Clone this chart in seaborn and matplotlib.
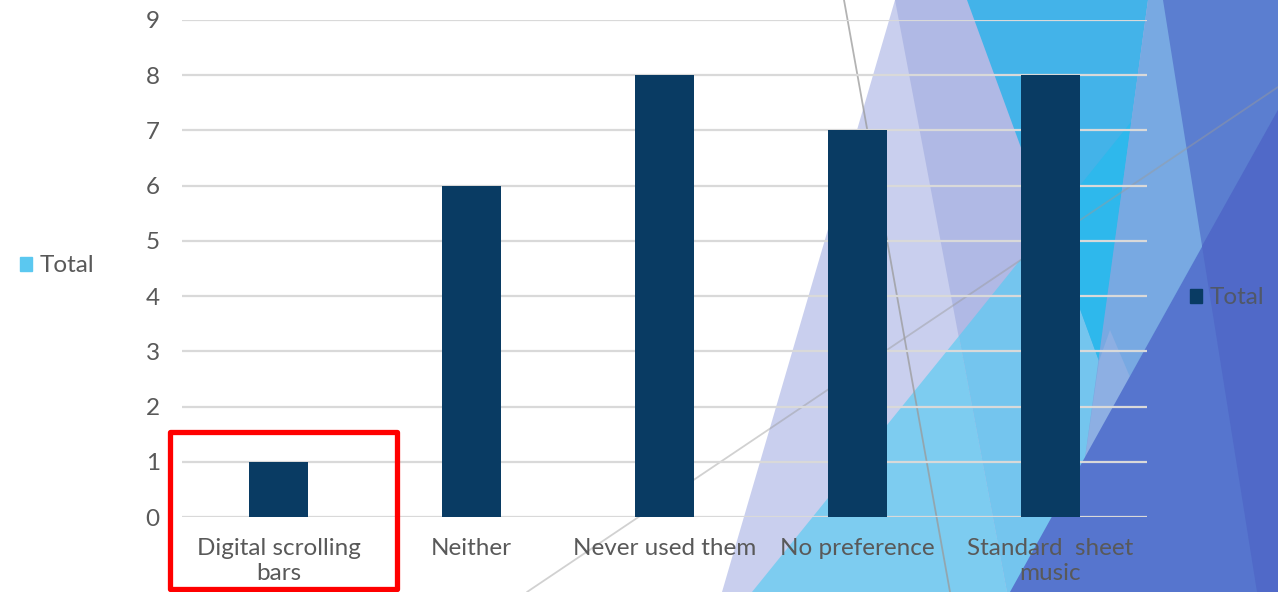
import matplotlib
matplotlib.use("Agg")
import matplotlib.pyplot as plt
import seaborn as sns
from matplotlib.patches import Polygon, Rectangle, Patch
from matplotlib.lines import Line2D

# ---- data ----
categories = ["Digital scrolling\nbars", "Neither", "Never used them", "No preference", "Standard  sheet\nmusic"]
values = [1, 6, 8, 7, 8]
series_name = "Total"
yticks = list(range(0, 10))

W, H = 1278, 592
sns.set_theme(style="white")
plt.rcParams['font.family'] = ['Lato', 'DejaVu Sans']

fig = plt.figure(figsize=(W / 100, H / 100), dpi=100)
fig.patch.set_facecolor("white")

def fp(pts):
    return [(x / W, 1 - y / H) for x, y in pts]

def poly(pts, color, z=-10):
    fig.add_artist(Polygon(fp(pts), closed=True, facecolor=color, edgecolor="none",
                           transform=fig.transFigure, zorder=z))

# decorative slide background (figure pixel coordinates)
poly([(895, 0), (722, 592), (1278, 592), (1278, 0)], "#C9CFEE")
poly([(895, 0), (1007, 592), (1278, 592), (1278, 0)], "#B0B9E5")
poly([(752, 592), (959, 336), (1007, 592)], "#7DCCF0")
poly([(959, 336), (1229, 0), (1278, 0), (1278, 592), (1007, 592)], "#74C5EE")
poly([(967, 0), (1148, 0), (1099, 361)], "#43B3E9")
poly([(1049, 224), (1131, 122), (1099, 361)], "#2EB8EC")
poly([(1148, 0), (1085, 458), (1278, 110), (1278, 0)], "#78A9E2")
poly([(1099, 361), (1085, 458), (1130, 377), (1110, 330)], "#8DAFE3")
poly([(1163, 0), (1257, 592), (1278, 592), (1278, 0)], "#5B7ED0")
poly([(1010, 592), (1278, 110), (1278, 592)], "#5675CE")
poly([(1202, 246), (1278, 110), (1278, 592), (1257, 592)], "#5069C8")

# thin decorative lines
fig.add_artist(Line2D([527 / W, 1278 / W], [1 - 592 / H, 1 - 87 / H], color="#9a9a9a",
                      alpha=0.45, lw=1.3, transform=fig.transFigure, zorder=-5))
fig.add_artist(Line2D([844 / W, 950 / W], [1, 0], color="#9a9a9a",
                      alpha=0.75, lw=1.3, transform=fig.transFigure, zorder=-5))

# ---- chart ----
ax = fig.add_axes([182 / W, 75 / H, 965 / W, 497 / H])
ax.set_facecolor("none")
sns.barplot(x=categories, y=values, color="#093B63", saturation=1, width=0.31,
            linewidth=0, edgecolor="none", ax=ax)
ax.set_ylim(0, 9)
ax.set_xlim(-0.5, 4.5)
ax.set_yticks(yticks)
ax.yaxis.grid(True, color="#D9D9D9", lw=1.6)
ax.set_axisbelow(True)
for s in ax.spines.values():
    s.set_visible(False)
ax.set_xlabel("")
ax.set_ylabel("")
ax.tick_params(axis="y", length=0, pad=16, labelsize=17.5, labelcolor="#595959")
ax.tick_params(axis="x", length=0, pad=15, labelsize=17.5, labelcolor="#595959")
for t in ax.get_xticklabels():
    t.set_linespacing(1.25)

# legends
fig.legend(handles=[Patch(color="#5BC8F0", label=series_name)], loc="center left",
           bbox_to_anchor=(20 / W, 1 - 266 / H), frameon=False, fontsize=17.5,
           borderpad=0, borderaxespad=0,
           handlelength=0.5, handleheight=0.5, handletextpad=0.3, labelcolor="#595959")
fig.legend(handles=[Patch(color="#093B63", label=series_name)], loc="center left",
           bbox_to_anchor=(1190 / W, 1 - 298 / H), frameon=False, fontsize=17.5,
           borderpad=0, borderaxespad=0,
           handlelength=0.5, handleheight=0.5, handletextpad=0.3, labelcolor="#505868")

# red highlight box
fig.add_artist(Rectangle((170 / W, 1 - 589 / H), 227 / W, 157 / H, fill=False,
                         edgecolor="#FF0000", lw=3.8, transform=fig.transFigure, zorder=20,
                         joinstyle="round"))

fig.savefig("out.png", dpi=100)
